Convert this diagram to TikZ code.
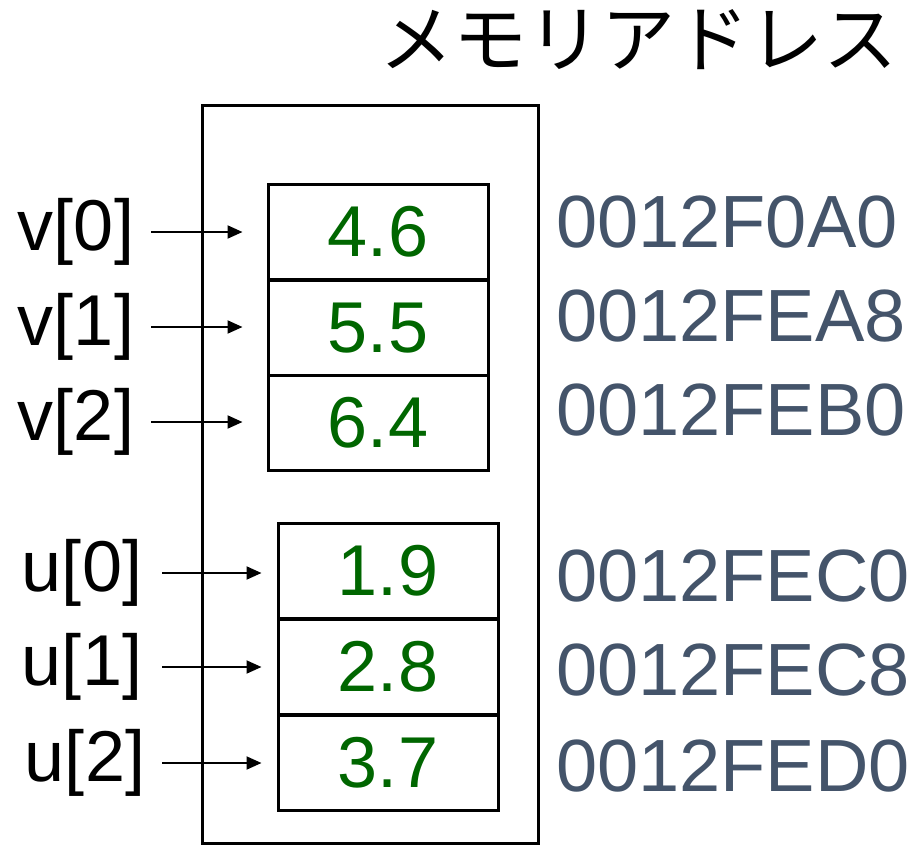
\documentclass[tikz,border=0pt]{standalone}
\usepackage{fontspec}
\usetikzlibrary{arrows.meta}
\setmainfont{Liberation Sans}
\newfontfamily\cjk{Noto Sans CJK JP}
\definecolor{addr}{HTML}{44546A}
\definecolor{val}{HTML}{006600}
\begin{document}
\begin{tikzpicture}[x=1pt,y=-1pt,
  txt/.style={inner sep=0pt,font=\fontsize{72}{80}\selectfont},
  cell/.style={draw,line width=3pt,minimum width=220pt,minimum height=95pt,inner sep=0pt,text=val,font=\fontsize{72}{80}\selectfont},
  adr/.style={inner sep=0pt,text=addr,anchor=west,font=\fontsize{74}{80}\selectfont},
  arr/.style={line width=2pt,-{Triangle[length=15pt,width=13pt]}}]
\useasboundingbox (0,0) rectangle (913,846);
\node[inner sep=0pt,font=\cjk\fontsize{74}{80}\selectfont] (title) at (638,40) {メモリアドレス};
\draw[line width=3pt] (202,105) rectangle (538,843);
% v cells
\node[cell] (c0) at (378,232) {4.6};
\node[cell] (c1) at (378,328) {5.5};
\node[cell] (c2) at (378,423) {6.4};
% u cells
\node[cell] (d0) at (388,571) {1.9};
\node[cell] (d1) at (388,667) {2.8};
\node[cell] (d2) at (388,763) {3.7};
% labels
\node[txt] (v0) at (76,232) {v[0]};
\node[txt] (v1) at (76,327) {v[1]};
\node[txt] (v2) at (76,422) {v[2]};
\node[txt] (u0) at (82,573) {u[0]};
\node[txt] (u1) at (82,667) {u[1]};
\node[txt] (u2) at (85,763) {u[2]};
% arrows (horizontal)
\draw[arr] ([xshift=17pt]v0.east) -- ([xshift=-24pt]v0.east -| c0.west);
\draw[arr] ([xshift=17pt]v1.east) -- ([xshift=-24pt]v1.east -| c1.west);
\draw[arr] ([xshift=17pt]v2.east) -- ([xshift=-24pt]v2.east -| c2.west);
\draw[arr] ([xshift=20pt]u0.east) -- ([xshift=-15pt]u0.east -| d0.west);
\draw[arr] ([xshift=20pt]u1.east) -- ([xshift=-15pt]u1.east -| d1.west);
\draw[arr] ([xshift=17pt]u2.east) -- ([xshift=-15pt]u2.east -| d2.west);
% addresses
\node[adr] (a0) at (556,222) {0012F0A0};
\node[adr] (a1) at (556,316) {0012FEA8};
\node[adr] (a2) at (556,410) {0012FEB0};
\node[adr] (a3) at (556,576) {0012FEC0};
\node[adr] (a4) at (556,670) {0012FEC8};
\node[adr] (a5) at (556,766) {0012FED0};
\end{tikzpicture}
\end{document}
